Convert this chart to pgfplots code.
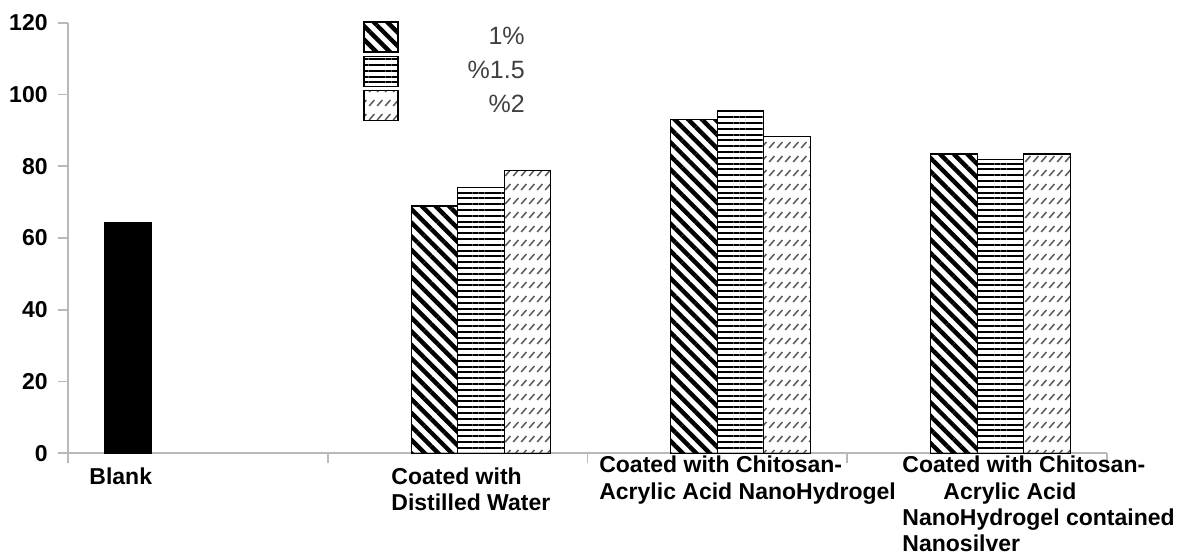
\documentclass[border=0pt]{standalone}
\usepackage{fontspec}
\setmainfont{Liberation Sans}
\usepackage{pgfplots}
\pgfplotsset{compat=1.18}
\usetikzlibrary{patterns,patterns.meta}

% small slashes in rows, as in the 2% bars
\pgfdeclarepatternformonly{slashrows}{\pgfqpoint{-1pt}{-1pt}}{\pgfqpoint{5pt}{8pt}}{\pgfqpoint{4pt}{7pt}}{%
  \pgfsetlinewidth{0.75pt}%
  \pgfpathmoveto{\pgfqpoint{0.6pt}{2pt}}%
  \pgfpathlineto{\pgfqpoint{3.2pt}{5pt}}%
  \pgfusepath{stroke}}

\pgfplotsset{
  legbox/.style={legend image code/.code={\draw[##1, line width=0.6pt] (0pt,-7.5pt) rectangle (17pt,7.5pt);}},
}

\begin{document}
\begin{tikzpicture}
\useasboundingbox (-34pt,-52.35pt) rectangle (559pt,226.65pt);
\begin{axis}[
  at={(0pt,0pt)}, anchor=south west,
  scale only axis, width=519.5pt, height=215.3pt,
  xmin=-0.5, xmax=3.5, ymin=0, ymax=120,
  axis x line=bottom, axis y line=left,
  axis line style={-, gray!55, line width=0.9pt},
  tick align=outside, major tick length=5pt,
  tick style={gray!55, line width=0.9pt},
  ytick={0,20,...,120},
  yticklabel style={anchor=east, inner sep=0pt, xshift=-5pt},
  xtick={-0.5,0.5,1.5,2.5,3.5}, xticklabels={},
  extra x ticks={-0.419,0.7435,1.544,2.711},
  extra x tick labels={
    {\rule{0pt}{14pt}Blank},
    {\rule{0pt}{14pt}Coated with\\Distilled Water},
    {Coated with Chitosan-\\Acrylic Acid NanoHydrogel},
    {Coated with Chitosan-\\\hspace*{20.5pt}Acrylic Acid\\NanoHydrogel contained\\Nanosilver}},
  extra x tick style={major tick length=0pt,
    xticklabel style={anchor=north west, align=left, inner sep=0pt, yshift=-1.2pt}},
  ticklabel style={font=\fontsize{11.5}{13.2}\selectfont\bfseries, text=black},
  /pgf/number format/assume math mode=true,
  legend style={at={(rel axis cs:0.284,1.004)}, anchor=north west,
    draw=none, fill=none, inner sep=0pt, row sep=1.5pt,
    nodes={inner sep=0pt},
    font=\fontsize{12.5}{13}\selectfont, text=black!75},
]
\addplot[ybar, bar width=0.179, bar shift=-0.2685, fill=black, draw=black, forget plot]
  coordinates {(0,64.3)};
\addplot[ybar, bar width=0.179, bar shift=-0.0895, draw=black, line width=0.6pt,
  pattern={Lines[angle=-45,distance=4.8pt,line width=2.2pt]}, pattern color=black, legbox]
  coordinates {(1,68.9) (2,93.1) (3,83.4)};
\addplot[ybar, bar width=0.179, bar shift=0.0895, draw=black, line width=0.6pt,
  pattern={Lines[angle=0,distance=2.9pt,line width=1pt]}, pattern color=black, legbox]
  coordinates {(1,74.1) (2,95.4) (3,81.9)};
\addplot[ybar, bar width=0.179, bar shift=0.2685, draw=black, line width=0.6pt,
  pattern=slashrows, pattern color=black!65, legbox]
  coordinates {(1,78.9) (2,88.2) (3,83.4)};
\legend{\makebox[63pt][r]{1\%}, \makebox[63pt][r]{\%1.5}, \makebox[63pt][r]{\%2}}
\end{axis}
\end{tikzpicture}
\end{document}
